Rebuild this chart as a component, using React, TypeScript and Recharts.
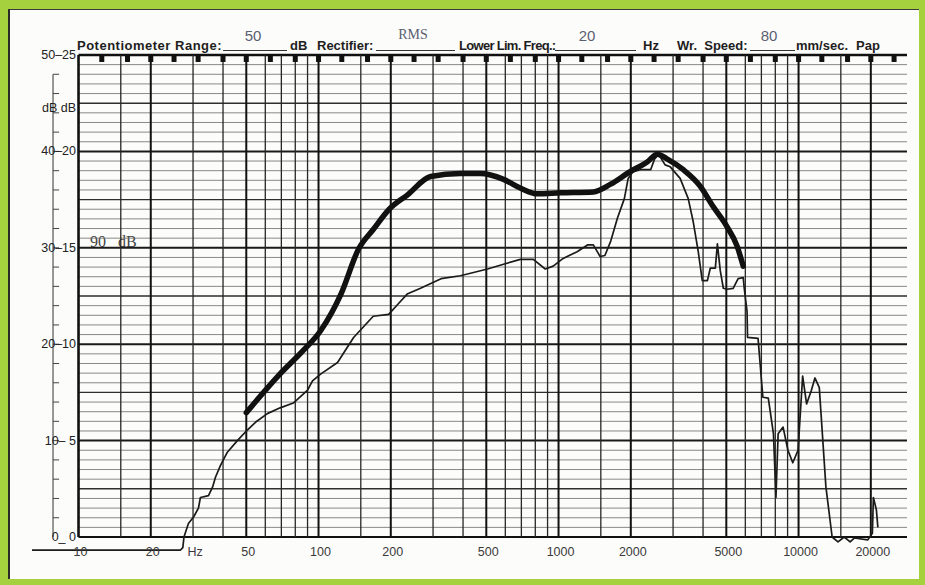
import React from "react";
import { LineChart, Line, XAxis, YAxis, ReferenceLine, ReferenceDot } from "recharts";

// thick trace (smoothed response)
const thickFreq = [50, 69, 86, 102, 124, 147, 169, 197, 235, 293, 390, 471, 590, 693, 818, 1017, 1396, 1649, 1985, 2340, 2580, 2840, 3310, 3890, 4400, 5030, 5540, 5880];
const thickLevel = [12.9, 16.9, 19.3, 21.4, 25.2, 29.9, 31.9, 34.0, 35.5, 37.4, 37.7, 37.7, 37.1, 36.2, 35.6, 35.7, 35.8, 36.6, 37.9, 38.9, 39.7, 39.2, 38.1, 36.4, 34.3, 32.2, 30.2, 28.1];

// thin trace (raw sweep)
const thinFreq = [6.4, 26.6, 27.2, 27.5, 28.7, 30.2, 31.6, 32.2, 34.8, 36.2, 37.2, 39, 41.7, 45.9, 50.5, 54.6, 61.2, 69.2, 78.5, 89.8, 94.4, 102, 120, 140, 169, 196, 215, 234, 266, 324, 390, 506, 590, 693, 785, 880, 950, 1045, 1195, 1320, 1396, 1490, 1560, 1650, 1760, 1880, 1950, 2040, 2200, 2420, 2510, 2610, 2780, 2920, 3210, 3470, 3640, 3820, 3970, 4170, 4290, 4500, 4590, 4720, 4860, 5030, 5340, 5600, 5880, 5940, 6100, 6130, 6780, 7100, 7480, 7860, 8050, 8220, 8620, 9030, 9460, 9950, 10400, 10800, 11300, 11700, 12200, 13000, 13800, 14600, 15500, 16400, 17100, 19400, 20300, 20500, 21100, 21400];
const thinLevel = [-1.35, -1.35, -1.1, 0, 1.4, 2.1, 3.0, 4.1, 4.3, 5.2, 6.2, 7.4, 8.8, 10.0, 11.1, 11.9, 12.8, 13.4, 13.9, 15.2, 16.2, 16.9, 18.1, 20.7, 22.9, 23.1, 24.2, 25.2, 25.8, 26.8, 27.1, 27.8, 28.3, 28.8, 28.8, 27.8, 28.1, 28.9, 29.6, 30.3, 30.3, 29.1, 29.2, 30.7, 33.1, 35.1, 37.2, 37.9, 38.1, 38.1, 39.2, 39.7, 38.6, 38.4, 37.2, 35.1, 32.7, 29.6, 26.6, 26.6, 27.9, 27.9, 30.4, 27.6, 25.8, 25.7, 25.8, 26.8, 26.9, 25.8, 23.4, 20.7, 20.6, 14.5, 14.4, 10.7, 4.1, 10.7, 11.4, 9.0, 7.7, 9.0, 16.7, 13.8, 15.2, 16.5, 15.5, 5.2, 0.0, -0.5, 0.0, -0.5, -0.1, -0.3, 0.4, 4.1, 2.8, 1.0];

const freqTicks = [10, 20, 30, 50, 100, 200, 500, 1000, 2000, 5000, 10000, 20000];
const freqTickText = ["10", "20", "Hz", "50", "100", "200", "500", "1000", "2000", "5000", "10000", "20000"];
const levelTicks = [0, 10, 20, 30, 40, 44.5, 50];
const levelTickText = ["0_ 0", "10– 5", "20–10", "30–15", "40–20", "dB dB", "50–25"];
const gridMultipliers = [1, 1.5, 2, 3, 4, 5, 6, 7, 8, 9];
const gridDecades = [10, 100, 1000, 10000];
const thirdOctave = [12.5, 16, 20, 25, 31.5, 40, 50, 63, 80, 100, 125, 160, 200, 250, 315, 400, 500, 630, 800, 1000, 1250, 1600, 2000, 2500, 3150, 4000, 5000, 6300, 8000, 10000, 12500, 16000, 20000, 25000];
const dbLines = Array.from({ length: 49 }, (_, i) => i + 1);
const rulerMarks = Array.from({ length: 24 }, (_, i) => (i + 1) * 2);

const F_MIN = 6.4;
const F_MAX = 28300;
const RULER_F = 7.83;
const RULER_TICK_F = 8.3;

const thickData = thickFreq.map((f, i) => ({ f, db: thickLevel[i] }));
const thinData = thinFreq.map((f, i) => ({ f, db: thinLevel[i] }));
const vLines = gridDecades.flatMap((d) => gridMultipliers.map((m) => ({ f: d * m, major: m === 1 || m === 2 || m === 5 }))).filter((g) => g.f <= 20000);

const sans = '"Liberation Sans", Arial, sans-serif';

const FreqTick = (props: any) => {
  const i = freqTicks.indexOf(props.payload.value);
  return (
    <text x={props.x + 2} y={552} textAnchor="middle" dominantBaseline="central" fontSize={12.5} fill="#3a3a3a" fontFamily={sans}>
      {freqTickText[i]}
    </text>
  );
};

const LevelTick = (props: any) => {
  const i = levelTicks.indexOf(props.payload.value);
  return (
    <text x={76} y={props.y} textAnchor="end" dominantBaseline="central" fontSize={12.5} fill="#222" fontFamily={sans}>
      {levelTickText[i]}
    </text>
  );
};

const Marker = (props: any) => <rect x={props.cx - 2.5} y={props.cy - 3.5} width={5} height={7} fill="#111" />;

const Label = ({ x, y, children, style }: any) => (
  <div style={{ position: "absolute", left: x, top: y, fontFamily: sans, fontWeight: 700, fontSize: 13, lineHeight: "14px", color: "#1e1e1e", whiteSpace: "nowrap", ...style }}>
    {children}
  </div>
);

const Blank = ({ x1, x2 }: any) => <div style={{ position: "absolute", left: x1, top: 50, width: x2 - x1, height: 0, borderTop: "1px solid #333" }} />;

const Hand = ({ cx, y, children, serif }: any) => (
  <div style={{ position: "absolute", left: cx - 30, width: 60, top: y, textAlign: "center", fontFamily: serif ? '"Liberation Serif", serif' : sans, fontSize: serif ? 14 : 15, lineHeight: "16px", color: "#5a5f72" }}>
    {children}
  </div>
);

export default function App() {
  return (
    <div style={{ position: "absolute", left: 0, top: 0, width: 925, height: 585, background: "#a6d13e", overflow: "hidden" }}>
      <div style={{ position: "absolute", left: 8, top: 9, width: 909, height: 569, background: "#fcfcfa", borderLeft: "2px solid #2a2a2a", borderTop: "1px solid #3a3a3a" }} />

      <Label x={77} y={39} style={{ letterSpacing: 0.5 }}>Potentiometer Range:</Label>
      <Blank x1={223} x2={287} />
      <Hand cx={253} y={28}>50</Hand>
      <Label x={290} y={39}>dB</Label>
      <Label x={317} y={39}>Rectifier:</Label>
      <Blank x1={376} x2={455} />
      <Hand cx={413} y={27} serif>RMS</Hand>
      <Label x={459} y={39} style={{ letterSpacing: -0.7 }}>Lower Lim. Freq.:</Label>
      <Blank x1={555} x2={636} />
      <Hand cx={587} y={28}>20</Hand>
      <Label x={643} y={39}>Hz</Label>
      <Label x={677} y={39}>Wr.&nbsp; Speed:</Label>
      <Blank x1={750} x2={795} />
      <Hand cx={769} y={28}>80</Hand>
      <Label x={796} y={39}>mm/sec.</Label>
      <Label x={856} y={39}>Pap</Label>

      <div style={{ position: "absolute", left: 90, top: 233, fontFamily: '"Liberation Serif", serif', fontSize: 16, color: "#444", whiteSpace: "pre" }}>90   dB</div>

      <div style={{ position: "absolute", left: 0, top: 0 }}>
        <LineChart width={925} height={585} margin={{ top: 55, right: 18, bottom: 0, left: 0 }}>
          <XAxis
            dataKey="f"
            type="number"
            scale="log"
            domain={[F_MIN, F_MAX]}
            allowDataOverflow
            ticks={freqTicks}
            interval={0}
            axisLine={false}
            tickLine={false}
            height={28.7}
            tick={<FreqTick />}
          />
          <YAxis
            dataKey="db"
            type="number"
            domain={[-2, 50]}
            allowDataOverflow
            ticks={levelTicks}
            interval={0}
            axisLine={false}
            tickLine={false}
            width={32}
            tick={<LevelTick />}
          />

          {dbLines.map((v) => (
            <ReferenceLine
              key={"h" + v}
              segment={[{ x: 10, y: v }, { x: F_MAX, y: v }]}
              stroke={v % 10 === 0 ? "#1a1a1a" : v % 5 === 0 ? "#2e2e2e" : "#747474"}
              strokeWidth={v % 10 === 0 ? 2 : v % 5 === 0 ? 1.4 : 0.85}
            />
          ))}
          <ReferenceLine segment={[{ x: 10, y: 0 }, { x: F_MAX, y: 0 }]} stroke="#111" strokeWidth={2.2} />
          <ReferenceLine segment={[{ x: 10, y: 50 }, { x: F_MAX, y: 50 }]} stroke="#111" strokeWidth={2.4} />

          {vLines.map((g) => (
            <ReferenceLine
              key={"v" + g.f}
              segment={[{ x: g.f, y: 0 }, { x: g.f, y: 50 }]}
              stroke={g.major ? "#111" : "#262626"}
              strokeWidth={g.f === 10 ? 2.6 : g.major ? 2 : 1.3}
            />
          ))}

          <ReferenceLine segment={[{ x: RULER_F, y: 0 }, { x: RULER_F, y: 48 }]} stroke="#333" strokeWidth={1} />
          {rulerMarks.map((v) => (
            <ReferenceLine key={"r" + v} segment={[{ x: RULER_F, y: v }, { x: RULER_TICK_F, y: v }]} stroke="#444" strokeWidth={1} />
          ))}

          {thirdOctave.map((f) => (
            <ReferenceDot key={"m" + f} x={f} y={49.64} r={3} shape={Marker} />
          ))}

          <Line data={thinData} dataKey="db" type="linear" stroke="#1b1b1b" strokeWidth={1.7} dot={false} isAnimationActive={false} strokeLinejoin="round" />
          <Line data={thickData} dataKey="db" type="monotone" stroke="#111" strokeWidth={5.5} dot={false} isAnimationActive={false} strokeLinecap="round" strokeLinejoin="round" />
        </LineChart>
      </div>
    </div>
  );
}
